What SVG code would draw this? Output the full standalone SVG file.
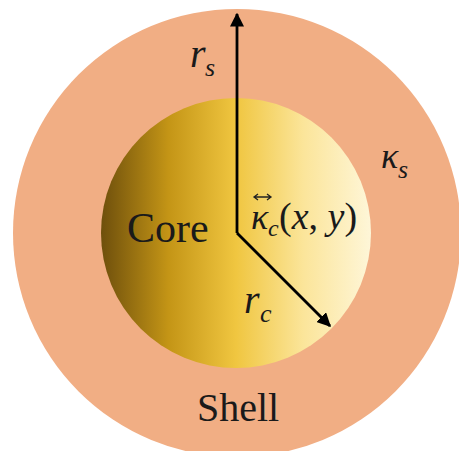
<svg xmlns="http://www.w3.org/2000/svg" width="459" height="451" viewBox="0 0 459 451" font-family="Liberation Serif, Times New Roman, serif">
<defs>
<linearGradient id="coreG" x1="0" y1="0" x2="1" y2="0">
<stop offset="0" stop-color="#6e4f0c"/>
<stop offset="0.25" stop-color="#c49516"/>
<stop offset="0.5" stop-color="#f0c640"/>
<stop offset="0.75" stop-color="#fbe59a"/>
<stop offset="1" stop-color="#fef6d8"/>
</linearGradient>
<marker id="ah" viewBox="0 0 10 10" refX="9" refY="5" markerWidth="5" markerHeight="5" orient="auto" markerUnits="strokeWidth">
<path d="M0,0 L10,5 L0,10 Z" fill="#000"/>
</marker>
</defs>
<rect width="459" height="451" fill="#fff"/>
<g id="shell">
<circle cx="237" cy="233" r="224" fill="#f1ae84"/>
<text x="197" y="421" font-size="40" font-family="Times New Roman" fill="#1a1a1a">Shell</text>
<text x="381" y="168" font-size="36" font-family="Times New Roman" font-style="italic" fill="#1a1a1a">κ</text>
<text x="398" y="178" font-size="26" font-family="Times New Roman" font-style="italic" fill="#1a1a1a">s</text>
</g>
<g id="core">
<circle cx="236" cy="233" r="135" fill="url(#coreG)"/>
<text x="127" y="242" font-size="42" font-family="Times New Roman" fill="#1a1a1a">Core</text>
</g>
<g id="connectors" stroke="#000" stroke-width="2.8" fill="none">
<path d="M237,233 V14" marker-end="url(#ah)"/>
<path d="M237,233 L330,326" marker-end="url(#ah)"/>
</g>
<g id="labels">
<text x="190" y="67" font-size="40" font-family="Times New Roman" font-style="italic" fill="#1a1a1a">r</text>
<text x="205" y="76" font-size="26" font-family="Times New Roman" font-style="italic" fill="#1a1a1a">s</text>
<text x="244" y="313" font-size="40" font-family="Times New Roman" font-style="italic" fill="#1a1a1a">r</text>
<text x="260" y="322" font-size="26" font-family="Times New Roman" font-style="italic" fill="#1a1a1a">c</text>
<text x="251" y="229" font-size="36" font-family="Times New Roman" font-style="italic" fill="#1a1a1a">κ</text>
<text x="268" y="236" font-size="24" font-family="Times New Roman" font-style="italic" fill="#1a1a1a">c</text>
<text x="279" y="229" font-size="38" font-family="Times New Roman" fill="#1a1a1a">(<tspan font-style="italic">x</tspan>, <tspan font-style="italic">y</tspan>)</text>
<path d="M255,197 H270 M258,194 L254,197 L258,200 M267,194 L271,197 L267,200" stroke="#222" stroke-width="1.3" fill="none"/>
</g>
</svg>
